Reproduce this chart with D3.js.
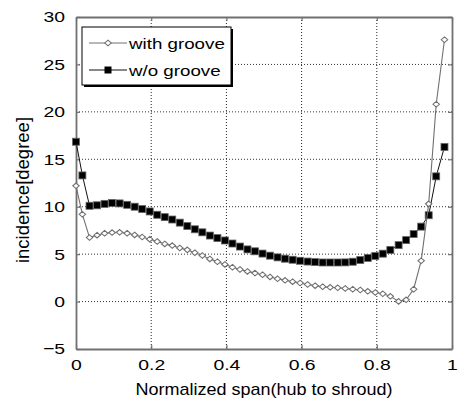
<!DOCTYPE html>
<html lang="en">
<head>
  <meta charset="UTF-8">
  <title>incidence vs span</title>
  <script src="https://d3js.org/d3.v7.min.js"></script>
  <style>
    body { margin: 0; background: #fff; }
    text { font-family: "Liberation Sans", Arial, sans-serif; fill: #000; }
  </style>
</head>
<body>
  <script>

    // span positions (normalized, hub to shroud)
    const spanVals = [0, 0.017, 0.036, 0.056, 0.076, 0.096, 0.116, 0.136, 0.156, 0.176,
      0.196, 0.216, 0.236, 0.256, 0.276, 0.296, 0.316, 0.336, 0.356, 0.376,
      0.396, 0.416, 0.436, 0.456, 0.476, 0.496, 0.516, 0.536, 0.556, 0.576,
      0.596, 0.616, 0.636, 0.656, 0.676, 0.696, 0.716, 0.736, 0.756, 0.776,
      0.796, 0.816, 0.836, 0.858, 0.878, 0.898, 0.918, 0.938, 0.958, 0.98];

    const withGroove = [12.2, 9.2, 6.75, 7.0, 7.2, 7.27, 7.3, 7.2, 7.03, 6.8,
      6.58, 6.33, 6.08, 5.9, 5.65, 5.45, 5.15, 4.85, 4.5, 4.2,
      3.92, 3.62, 3.38, 3.18, 3.0, 2.83, 2.6, 2.4, 2.24, 2.1,
      1.96, 1.8, 1.68, 1.57, 1.5, 1.45, 1.38, 1.3, 1.22, 1.08,
      0.96, 0.82, 0.55, 0.02, 0.18, 1.3, 4.3, 10.3, 20.8, 27.6];

    const withoutGroove = [16.85, 13.3, 10.1, 10.15, 10.3, 10.4, 10.35, 10.2, 10.0, 9.75,
      9.5, 9.15, 8.9, 8.65, 8.32, 7.96, 7.62, 7.3, 6.96, 6.7,
      6.44, 6.12, 5.8, 5.5, 5.3, 5.06, 4.84, 4.66, 4.52, 4.41,
      4.3, 4.22, 4.16, 4.12, 4.12, 4.12, 4.13, 4.2, 4.38, 4.6,
      4.8, 5.05, 5.45, 5.95, 6.48, 7.12, 7.9, 9.1, 13.2, 16.3];

    const xTicks = [0, 0.2, 0.4, 0.6, 0.8, 1];
    const xTickLabels = ["0", "0.2", "0.4", "0.6", "0.8", "1"];
    const yTicks = [-5, 0, 5, 10, 15, 20, 25, 30];
    const seriesNames = ["with groove", "w/o groove"];

    const W = 463, H = 404;
    const pLeft = 76, pRight = 452, pTop = 17, pBottom = 349;
    const stretch = 1.25; // tick / legend text in the picture is wider than it is tall

    var svg = d3.select("body").append("svg")
      .attr("width", W)
      .attr("height", H);

    const x = d3.scaleLinear().domain([0, 1]).range([pLeft, pRight]);
    const y = d3.scaleLinear().domain([-5, 30]).range([pBottom, pTop]);

    // dotted grid
    svg.append("g").selectAll("line")
      .data(xTicks.slice(1, -1))
      .enter().append("line")
      .attr("x1", d => x(d)).attr("x2", d => x(d))
      .attr("y1", pTop).attr("y2", pBottom)
      .attr("stroke", "#222").attr("stroke-width", 1)
      .attr("stroke-dasharray", "1,2");

    svg.append("g").selectAll("line")
      .data(yTicks.slice(1, -1))
      .enter().append("line")
      .attr("x1", pLeft).attr("x2", pRight)
      .attr("y1", d => y(d)).attr("y2", d => y(d))
      .attr("stroke", "#333").attr("stroke-width", 1)
      .attr("stroke-dasharray", "1,2");

    // axes (box with inward ticks)
    const axisColor = "#707070";

    const gx = svg.append("g")
      .attr("transform", "translate(0," + pBottom + ")")
      .call(d3.axisBottom(x).tickValues(xTicks)
        .tickFormat((d, i) => xTickLabels[i])
        .tickSizeInner(-4).tickSizeOuter(0).tickPadding(10));

    const gy = svg.append("g")
      .attr("transform", "translate(" + pLeft + ",0)")
      .call(d3.axisLeft(y).tickValues(yTicks)
        .tickSizeInner(-4).tickSizeOuter(0).tickPadding(9));

    const gt = svg.append("g")
      .attr("transform", "translate(0," + pTop + ")")
      .call(d3.axisTop(x).tickValues(xTicks).tickFormat("")
        .tickSizeInner(-4).tickSizeOuter(0));

    const gr = svg.append("g")
      .attr("transform", "translate(" + pRight + ",0)")
      .call(d3.axisRight(y).tickValues(yTicks).tickFormat("")
        .tickSizeInner(-4).tickSizeOuter(0));

    [gx, gy, gt, gr].forEach(g => {
      g.select(".domain").attr("stroke", axisColor).attr("stroke-width", 1.8);
      g.selectAll(".tick line").attr("stroke", axisColor).attr("stroke-width", 1.2);
    });

    gx.selectAll(".tick text")
      .style("font-size", "15.5px")
      .attr("transform", "scale(" + stretch + ",1)");

    gy.selectAll(".tick text")
      .style("font-size", "15.5px")
      .attr("x", -11 / stretch)
      .attr("transform", "scale(" + stretch + ",1)");

    // series
    const pts = (vals) => spanVals.map((s, i) => [s, vals[i]]);
    const line = d3.line().x(d => x(d[0])).y(d => y(d[1]));

    svg.append("path")
      .datum(pts(withoutGroove))
      .attr("d", line)
      .attr("fill", "none")
      .attr("stroke", "#111")
      .attr("stroke-width", 1);

    svg.append("g").selectAll("rect")
      .data(pts(withoutGroove))
      .enter().append("rect")
      .attr("x", d => x(d[0]) - 3.5)
      .attr("y", d => y(d[1]) - 3.5)
      .attr("width", 7).attr("height", 7)
      .attr("fill", "#000")
      .attr("stroke", "#666").attr("stroke-width", 0.8);

    const diamond = d3.symbol().type(d3.symbolDiamond2).size(20);

    svg.append("path")
      .datum(pts(withGroove))
      .attr("d", line)
      .attr("fill", "none")
      .attr("stroke", "#707070")
      .attr("stroke-width", 1.1);

    svg.append("g").selectAll("path")
      .data(pts(withGroove))
      .enter().append("path")
      .attr("d", diamond)
      .attr("transform", d => "translate(" + x(d[0]) + "," + y(d[1]) + ") scale(1.15,1)")
      .attr("fill", "#fff")
      .attr("stroke", "#707070")
      .attr("stroke-width", 1);

    // legend
    const lg = svg.append("g").attr("transform", "translate(82,27)");
    lg.append("rect").attr("x", 2).attr("y", 2).attr("width", 149).attr("height", 58).attr("fill", "#000");
    lg.append("rect").attr("width", 149).attr("height", 58)
      .attr("fill", "#fff").attr("stroke", "#000").attr("stroke-width", 1);

    const rows = [16, 43];
    lg.append("line").attr("x1", 7).attr("x2", 45).attr("y1", rows[0]).attr("y2", rows[0])
      .attr("stroke", "#707070");
    lg.append("path").attr("d", diamond)
      .attr("transform", "translate(26," + rows[0] + ") scale(1.15,1)")
      .attr("fill", "#fff").attr("stroke", "#707070");
    lg.append("line").attr("x1", 7).attr("x2", 45).attr("y1", rows[1]).attr("y2", rows[1])
      .attr("stroke", "#111");
    lg.append("rect").attr("x", 22.5).attr("y", rows[1] - 3.5).attr("width", 7).attr("height", 7)
      .attr("fill", "#000");

    lg.selectAll("text")
      .data(seriesNames)
      .enter().append("text")
      .attr("transform", (d, i) => "translate(47," + (rows[i] + 5.5) + ") scale(" + stretch + ",1)")
      .style("font-size", "15px")
      .text(d => d);

    // axis labels
    svg.append("text")
      .attr("x", (pLeft + pRight) / 2)
      .attr("y", 395)
      .attr("text-anchor", "middle")
      .attr("textLength", 257)
      .attr("lengthAdjust", "spacingAndGlyphs")
      .style("font-size", "17px")
      .text("Normalized span(hub to shroud)");

    svg.append("text")
      .attr("transform", "translate(29," + 190 + ") rotate(-90)")
      .attr("text-anchor", "middle")
      .style("font-size", "18.5px")
      .text("incidence[degree]");

  </script>
</body>
</html>
